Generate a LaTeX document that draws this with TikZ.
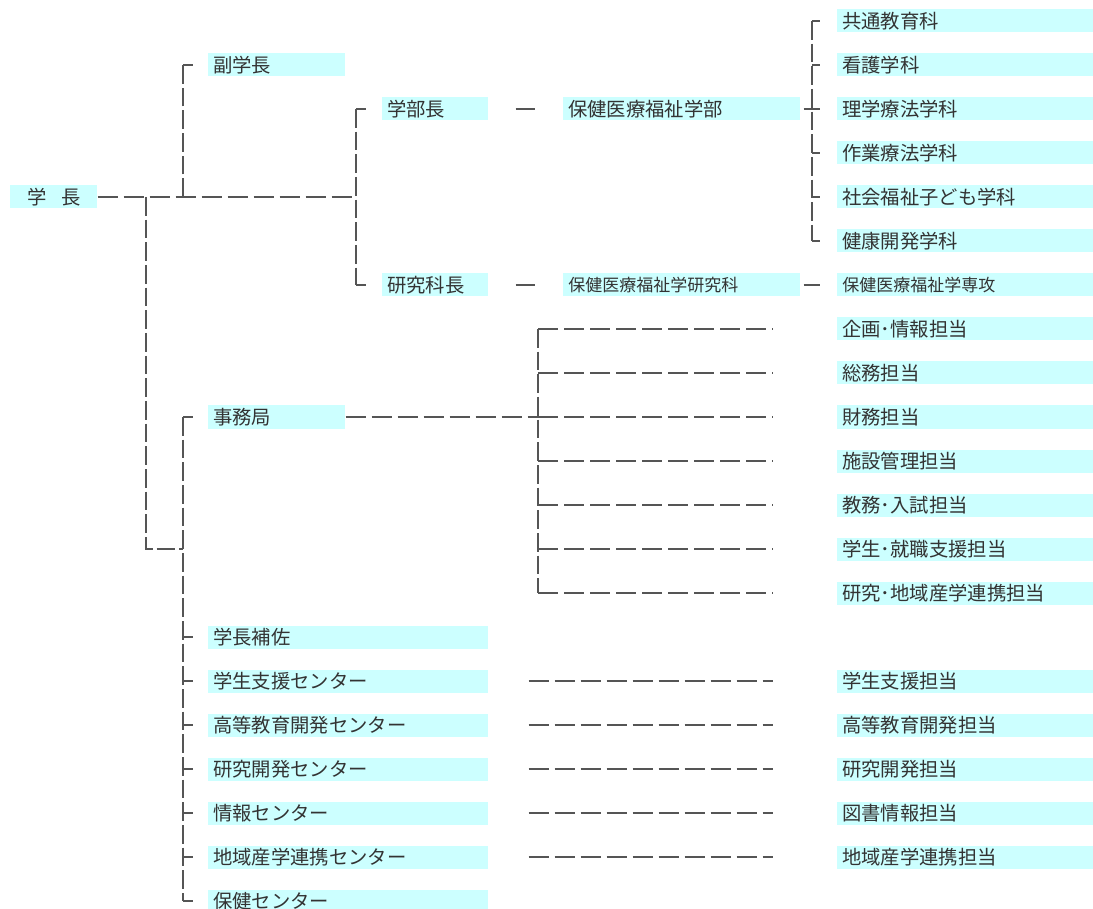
\documentclass[tikz,border=0pt]{standalone}
\usepackage{fontspec}
\usepackage{xcolor}
\usepackage{tikz}
\newfontfamily\jpfont{Noto Sans CJK JP}
\definecolor{unitbg}{HTML}{CCFFFF}
\definecolor{linegray}{HTML}{555555}

\begin{document}
\begin{tikzpicture}[
  x=0.75pt, y=-0.75pt,
  unit/.style={fill=unitbg, anchor=west, inner xsep=3.75pt, inner ysep=0pt,
    minimum height=17.25pt, text width=#1, align=left, text=black!80,
    font=\jpfont\fontsize{14.5pt}{16pt}\selectfont},
  unit/.default=95.25pt,
  smalltext/.style={font=\jpfont\fontsize{12.75pt}{14pt}\selectfont},
  link/.style={draw=linegray, line width=0.9pt, dash pattern=on 15pt off 4.5pt},
  vlink/.style={draw=linegray, line width=0.9pt, dash pattern=on 14pt off 3pt},
]
% Coordinate system: 1 unit = 1 px of the 1093 x 909 chart, y pointing down.
% Rows are 44 px apart: row r sits at y = 21 + 44 r.
\useasboundingbox (0,0) rectangle (1093,909);

% ─── Top level ────────────────────────────────────────────────────────────
\node[unit=57.75pt, align=center] (gakucho) at (10,197) {学\hspace{0.75em}長};
\node[unit] (fuku) at (208,65) {副学長};

% ─── Faculty / graduate school ────────────────────────────────────────────
\node[unit=72pt] (gakubucho)   at (382,109) {学部長};
\node[unit=72pt] (kenkyukacho) at (382,285) {研究科長};
\node[unit=170.25pt] (gakubu)  at (563,109) {保健医療福祉学部};
\node[unit=170.25pt, smalltext] (kenkyuka) at (563,285) {保健医療福祉学研究科};

\node[unit=184.5pt] (kyotsu) at (837,21)  {共通教育科};
\node[unit=184.5pt] (kango)  at (837,65)  {看護学科};
\node[unit=184.5pt] (rigaku) at (837,109) {理学療法学科};
\node[unit=184.5pt] (sagyo)  at (837,153) {作業療法学科};
\node[unit=184.5pt] (shakai) at (837,197) {社会福祉子ども学科};
\node[unit=184.5pt] (kenko)  at (837,241) {健康開発学科};
\node[unit=184.5pt, smalltext] (senko) at (837,285) {保健医療福祉学専攻};

% ─── Secretariat ──────────────────────────────────────────────────────────
\node[unit] (jimu) at (208,417) {事務局};

\node[unit=184.5pt] (kikaku)   at (837,329) {企画･情報担当};
\node[unit=184.5pt] (somu)     at (837,373) {総務担当};
\node[unit=184.5pt] (zaimu)    at (837,417) {財務担当};
\node[unit=184.5pt] (shisetsu) at (837,461) {施設管理担当};
\node[unit=184.5pt] (kyomu)    at (837,505) {教務･入試担当};
\node[unit=184.5pt] (gakusei)  at (837,549) {学生･就職支援担当};
\node[unit=184.5pt] (renkei)   at (837,593) {研究･地域産学連携担当};

% ─── Centres ──────────────────────────────────────────────────────────────
\node[unit=202.5pt] (hosa)       at (208,637) {学長補佐};
\node[unit=202.5pt] (shiensc)    at (208,681) {学生支援センター};
\node[unit=202.5pt] (kotosc)     at (208,725) {高等教育開発センター};
\node[unit=202.5pt] (kaihatsusc) at (208,769) {研究開発センター};
\node[unit=202.5pt] (johosc)     at (208,813) {情報センター};
\node[unit=202.5pt] (chiikisc)   at (208,857) {地域産学連携センター};
\node[unit=202.5pt] (hokensc)    at (208,901) {保健センター};

\node[unit=184.5pt] (shientan)    at (837,681) {学生支援担当};
\node[unit=184.5pt] (kototan)     at (837,725) {高等教育開発担当};
\node[unit=184.5pt] (kaihatsutan) at (837,769) {研究開発担当};
\node[unit=184.5pt] (toshotan)    at (837,813) {図書情報担当};
\node[unit=184.5pt] (chiikitan)   at (837,857) {地域産学連携担当};

% ─── Bus lines ────────────────────────────────────────────────────────────
\coordinate (busA) at (146,197);  % down to the lower branch
\coordinate (busB) at (183,197);  % up to 副学長
\coordinate (busC) at (356,197);  % 学部長 / 研究科長
\coordinate (busD) at (812,109);  % departments
\coordinate (busE) at (183,549);  % 事務局 and centres
\coordinate (busF) at (538,417);  % secretariat sections

\draw[link] (gakucho.east) -- (busC);
\draw[vlink] (busB) -- (busB |- fuku.west);
\draw[link] (busB |- fuku.west) -- ([xshift=-11.25pt]fuku.west);

\draw[vlink] (busC |- gakubucho.west) -- (busC |- kenkyukacho.west);
\foreach \n in {gakubucho, kenkyukacho}
  \draw[link] (busC |- \n.west) -- ([xshift=-12pt]\n.west);

\draw[link] ([xshift=20.25pt]gakubucho.east) -- ([xshift=-21pt]gakubu.west);
\draw[link] ([xshift=20.25pt]kenkyukacho.east) -- ([xshift=-21pt]kenkyuka.west);

% departments
\draw[link] ([xshift=2.25pt]gakubu.east) -- ([xshift=-12.75pt]rigaku.west);
\draw[vlink] (busD |- kyotsu.west) -- (busD |- kenko.west);
\foreach \d in {kyotsu, kango, sagyo, shakai, kenko}
  \draw[link] (busD |- \d.west) -- ([xshift=-12.75pt]\d.west);
\draw[link] ([xshift=2.25pt]kenkyuka.east) -- ([xshift=-12.75pt]senko.west);

% lower branch
\draw[vlink] (busA) |- (busE);
\draw[vlink] (busE |- jimu.west) -- (busE |- hokensc.west);
\foreach \c in {jimu, hosa, shiensc, kotosc, kaihatsusc, johosc, chiikisc, hokensc}
  \draw[link] (busE |- \c.west) -- ([xshift=-11.25pt]\c.west);

% secretariat sections
\draw[link] (jimu.east) -- (busF);
\draw[vlink] (busF |- kikaku.west) -- (busF |- renkei.west);
\foreach \s in {kikaku, somu, zaimu, shisetsu, kyomu, gakusei, renkei}
  \draw[link] (busF |- \s.west) -- ([xshift=-48pt]\s.west);

% centres to their sections
\foreach \c/\s in {shiensc/shientan, kotosc/kototan, kaihatsusc/kaihatsutan,
                   johosc/toshotan, chiikisc/chiikitan}
  \draw[link] ([xshift=30pt]\c.east) -- ([xshift=-48pt]\s.west);

\end{tikzpicture}
\end{document}
